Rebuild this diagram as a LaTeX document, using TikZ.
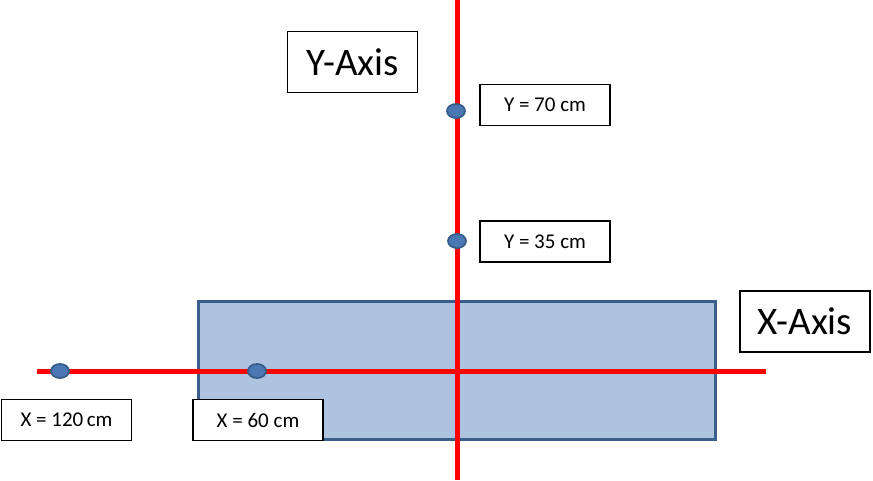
\documentclass[tikz,border=0pt]{standalone}
\usepackage{fontspec}
\setmainfont{Carlito}
\usetikzlibrary{shapes.geometric}
\definecolor{axisred}{HTML}{FF0000}
\definecolor{rectfill}{HTML}{ADC3E0}
\definecolor{rectedge}{HTML}{3A5F8B}
\definecolor{dotfill}{HTML}{4A78B2}
\definecolor{dotedge}{HTML}{385D8A}
\tikzset{
  labelbox/.style={draw=black, line width=1.3pt, fill=white, minimum width=130pt, minimum height=41pt, inner sep=0pt, font=\fontsize{21}{25}\selectfont},
  titlebox/.style={draw=black, line width=1.3pt, fill=white, minimum width=130pt, minimum height=61pt, inner sep=0pt, font=\fontsize{39}{46}\selectfont},
  axisline/.style={draw=axisred, line width=5pt},
  dotmark/.style={ellipse, draw=dotedge, line width=1.8pt, fill=dotfill, minimum width=18pt, minimum height=14pt, inner sep=0pt}
}
\begin{document}
\begin{tikzpicture}[x=1pt, y=-1pt]
\useasboundingbox (0,0) rectangle (873,480);
% blue rectangle
\node[draw=rectedge, line width=3pt, fill=rectfill, minimum width=517pt, minimum height=138pt, inner sep=0pt] (plate) at (456.5,370) {};
% axes
\coordinate (vtop) at (457,0);
\coordinate (vbot) at (457,480);
\coordinate (hleft) at (37,371);
\coordinate (hright) at (766,371);
\draw[axisline] (vtop) -- (vbot);
\draw[axisline] (hleft) -- (hright);
% dots
\node[dotmark] (d70) at (456,111) {};
\node[dotmark] (d35) at (457,241) {};
\node[dotmark] (d120) at (60,371) {};
\node[dotmark] (d60) at (257,371) {};
% titles
\node[titlebox] (yaxis) at (352.5,62) {Y-Axis};
\node[titlebox] (xaxis) at (805,321.5) {X-Axis};
% labels
\node[labelbox] (l70) at (545,105) {Y = 70 cm};
\node[labelbox] (l35) at (545,241.5) {Y = 35 cm};
\node[labelbox] (l120) at (66.5,420) {X = 120\,cm};
\node[labelbox] (l60) at (258,420) {X = 60 cm};
\end{tikzpicture}
\end{document}
